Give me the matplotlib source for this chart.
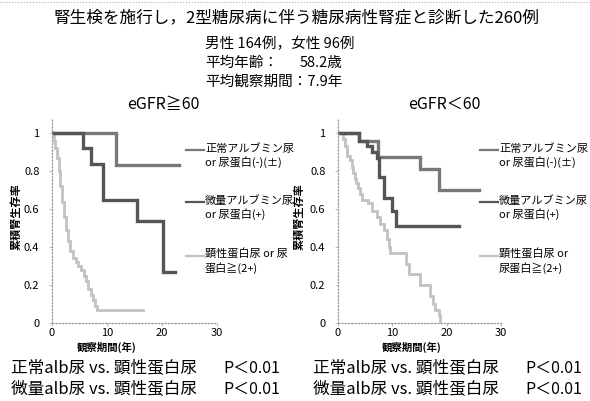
import matplotlib
matplotlib.use("Agg")
import matplotlib.pyplot as plt
from matplotlib.lines import Line2D

plt.rcParams["font.family"] = ["Noto Sans CJK JP", "DejaVu Sans"]

W, H = 590, 401

# Kaplan-Meier step data: event times (years) and survival after each step
left_normal_t = [0, 11.6]
left_normal_s = [1.0, 0.83]
left_normal_end = 23.0
left_micro_t = [0, 5.7, 7.0, 9.2, 15.5, 20.2]
left_micro_s = [1.0, 0.92, 0.84, 0.65, 0.54, 0.27]
left_micro_end = 22.3
left_overt_t = [0, 0.3, 0.6, 0.9, 1.2, 1.5, 1.8, 2.1, 2.5, 2.9, 3.3, 3.8,
                4.3, 4.8, 5.3, 5.8, 6.2, 6.6, 7.0, 7.4, 7.8, 8.2]
left_overt_s = [1.0, 0.96, 0.92, 0.87, 0.80, 0.72, 0.64, 0.56, 0.49, 0.43, 0.38, 0.34,
                0.32, 0.30, 0.28, 0.25, 0.22, 0.18, 0.15, 0.12, 0.09, 0.07]
left_overt_end = 16.6

right_normal_t = [0, 3.9, 7.4, 15.1, 18.5]
right_normal_s = [1.0, 0.96, 0.875, 0.81, 0.70]
right_normal_end = 26.0
right_micro_t = [0, 3.9, 5.3, 6.2, 7.1, 7.6, 8.4, 9.9, 10.6]
right_micro_s = [1.0, 0.96, 0.93, 0.90, 0.87, 0.77, 0.66, 0.59, 0.51]
right_micro_end = 22.3
right_overt_t = [0, 1.0, 1.3, 1.6, 2.2, 2.5, 2.8, 3.1, 3.4, 3.7, 4.0, 4.4, 5.6, 6.2,
                 7.1, 7.7, 8.4, 9.0, 9.3, 9.6, 12.5, 13.0, 15.1, 16.9, 17.5, 17.8, 18.5, 18.8]
right_overt_s = [1.0, 0.97, 0.93, 0.88, 0.86, 0.82, 0.79, 0.76, 0.74, 0.71, 0.68, 0.65, 0.63, 0.59,
                 0.56, 0.52, 0.49, 0.44, 0.40, 0.37, 0.31, 0.26, 0.20, 0.14, 0.10, 0.07, 0.04, 0.0]
right_overt_end = 18.8

x_ticks = [0, 10, 20, 30]
y_ticks = [0, 0.2, 0.4, 0.6, 0.8, 1.0]
y_tick_labels = ["0", "0.2", "0.4", "0.6", "0.8", "1"]

COL_NORMAL = "#787878"
COL_MICRO = "#555555"
COL_OVERT = "#c2c2c2"

left_legend = ["正常アルブミン尿\nor 尿蛋白(-)(±)", "微量アルブミン尿\nor 尿蛋白(+)", "顕性蛋白尿 or 尿\n蛋白≧(2+)"]
right_legend = ["正常アルブミン尿\nor 尿蛋白(-)(±)", "微量アルブミン尿\nor 尿蛋白(+)", "顕性蛋白尿 or\n尿蛋白≧(2+)"]


def fx(x):
    return x / W


def fy(y):
    return 1 - y / H


def km_step(ax, times, surv, end, color, lw):
    xs = list(times) + [end]
    ys = list(surv) + [surv[-1]]
    ax.step(xs, ys, where="post", color=color, lw=lw, solid_joinstyle="miter")


def style_axes(ax):
    ax.set_xlim(0, 30)
    ax.set_ylim(0, 1.08)
    for side in ("top", "right"):
        ax.spines[side].set_visible(False)
    for side in ("left", "bottom"):
        ax.spines[side].set_color("#9a9a9a")
        ax.spines[side].set_linestyle(":")
        ax.spines[side].set_linewidth(0.9)
    ax.set_xticks(x_ticks)
    ax.set_yticks(y_ticks)
    ax.set_yticklabels(y_tick_labels)
    ax.tick_params(axis="both", length=2, width=0.6, color="#b0b0b0", labelsize=8)
    ax.tick_params(axis="y", pad=7)
    ax.tick_params(axis="x", pad=1.5)
    ax.patch.set_alpha(0)


fig = plt.figure(figsize=(W / 100, H / 100), dpi=100)

ax_l = fig.add_axes([fx(52), fy(323), fx(165), 205 / H])
ax_r = fig.add_axes([fx(338), fy(323), fx(163), 205 / H])

km_step(ax_l, left_overt_t, left_overt_s, left_overt_end, COL_OVERT, 2.0)
km_step(ax_l, left_normal_t, left_normal_s, left_normal_end, COL_NORMAL, 2.4)
km_step(ax_l, left_micro_t, left_micro_s, left_micro_end, COL_MICRO, 2.4)

km_step(ax_r, right_overt_t, right_overt_s, right_overt_end, COL_OVERT, 2.0)
km_step(ax_r, right_normal_t, right_normal_s, right_normal_end, COL_NORMAL, 2.4)
km_step(ax_r, right_micro_t, right_micro_s, right_micro_end, COL_MICRO, 2.4)

for ax in (ax_l, ax_r):
    style_axes(ax)

# top dotted rule
fig.add_artist(Line2D([0, 1], [fy(2), fy(2)], transform=fig.transFigure,
                      color="#aaaaaa", lw=0.8, ls=":"))

# header text
fig.text(fx(297), fy(18), "腎生検を施行し，2型糖尿病に伴う糖尿病性腎症と診断した260例",
         ha="center", va="center", fontsize=12)
fig.text(fx(205), fy(44), "男性 164例，女性 96例", ha="left", va="center", fontsize=10.5)
fig.text(fx(205), fy(63), "平均年齢：", ha="left", va="center", fontsize=10.5)
fig.text(fx(300), fy(63), "58.2歳", ha="left", va="center", fontsize=10.5)
fig.text(fx(205), fy(82), "平均観察期間：7.9年", ha="left", va="center", fontsize=10.5)

# panel titles
fig.text(fx(163), fy(104), "eGFR≧60", ha="center", va="center", fontsize=11.5)
fig.text(fx(444), fy(104), "eGFR＜60", ha="center", va="center", fontsize=11.5)

# axis labels
for x in (16, 299):
    fig.text(fx(x), fy(217), "累積腎生存率", ha="center", va="center", rotation=90,
             fontsize=8, fontweight="bold")
for x in (107, 412):
    fig.text(fx(x), fy(347), "観察期間(年)", ha="center", va="center",
             fontsize=7.5, fontweight="bold")

# legends
legend_cols = [COL_NORMAL, COL_MICRO, COL_OVERT]
legend_rows = [150, 202, 256]
for x_line, labels in ((186, left_legend), (480, right_legend)):
    for label, col, y in zip(labels, legend_cols, legend_rows):
        fig.add_artist(Line2D([fx(x_line), fx(x_line + 18)], [fy(y), fy(y)],
                              transform=fig.transFigure, color=col, lw=1.6))
        fig.text(fx(x_line + 19), fy(y - 7), label, ha="left", va="top",
                 fontsize=8, linespacing=1.2)

# p-value notes
for x0 in (11, 313):
    fig.text(fx(x0), fy(368), "正常alb尿 vs. 顕性蛋白尿", ha="left", va="center", fontsize=12)
    fig.text(fx(x0), fy(389), "微量alb尿 vs. 顕性蛋白尿", ha="left", va="center", fontsize=12)
    fig.text(fx(x0 + 212), fy(368), "P＜0.01", ha="left", va="center", fontsize=11.5)
    fig.text(fx(x0 + 212), fy(389), "P＜0.01", ha="left", va="center", fontsize=11.5)

fig.savefig("out.png", dpi=100)
